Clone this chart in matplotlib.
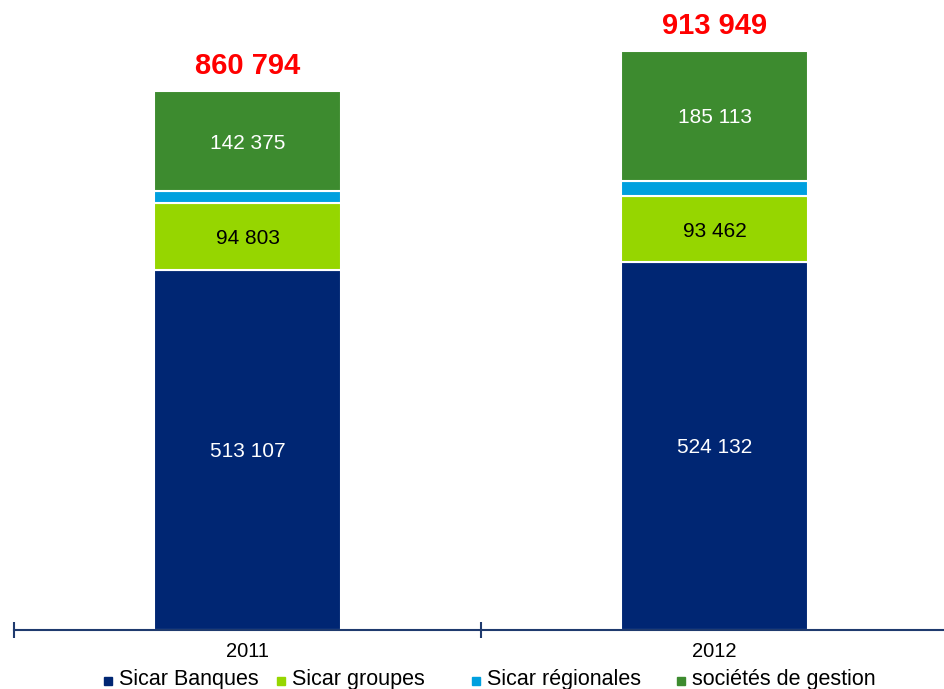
import matplotlib.pyplot as plt
from matplotlib.patches import Rectangle

plt.rcParams['font.family'] = ['Liberation Sans', 'DejaVu Sans']

# encours par catégorie d'investisseur
years = ["2011", "2012"]
series = ["Sicar Banques", "Sicar groupes", "Sicar régionales", "sociétés de gestion"]
banques = [513107, 524132]
groupes = [94803, 93462]
regionales = [16500, 22000]
societes = [142375, 185113]
totals = ["860 794", "913 949"]

colors = ["#002673", "#96D600", "#00A0DF", "#3D8B2F"]
text_colors = ["white", "black", None, "white"]
axis_color = "#1F3A6E"

W, H = 944, 689
fig = plt.figure(figsize=(W / 100, H / 100), dpi=100)
ax = fig.add_axes([14 / W, (H - 630) / H, 934 / W, 630 / H])

def fmt(v):
    return f"{v:,}".replace(",", " ")

x = list(range(len(years)))
bottom = [0, 0]
for vals, col, tcol in zip([banques, groupes, regionales, societes], colors, text_colors):
    ax.bar(x, vals, width=0.4, bottom=bottom, color=col, edgecolor="white", linewidth=1.5)
    if tcol is not None:
        for i, v in enumerate(vals):
            ax.text(x[i], bottom[i] + v / 2, fmt(v), ha="center", va="center_baseline",
                    fontsize=15, color=tcol)
    bottom = [b + v for b, v in zip(bottom, vals)]

for i, t in enumerate(totals):
    ax.text(x[i], bottom[i] + 40000, t, ha="center", va="center_baseline",
            fontsize=21, fontweight="bold", color="#FF0000")

ax.set_xlim(-0.5, 1.5)
ax.set_ylim(0, 897000)
for s in ["top", "right", "left"]:
    ax.spines[s].set_visible(False)
ax.spines["bottom"].set_color(axis_color)
ax.spines["bottom"].set_linewidth(1.5)
ax.set_yticks([])
ax.set_xticks([-0.5, 0.5, 1.5])
ax.set_xticklabels([])
ax.tick_params(axis="x", direction="inout", length=11, width=1.5, color=axis_color)
for i, y in enumerate(years):
    ax.text(x[i], -17000, y, ha="center", va="top", fontsize=14.5, color="black")

# legend drawn by hand
leg_x = [104, 277, 472, 677]
for lx, name, col in zip(leg_x, series, colors):
    fig.add_artist(Rectangle((lx / W, (H - 685) / H), 8 / W, 8 / H,
                             transform=fig.transFigure, color=col))
    fig.text((lx + 15) / W, (H - 679) / H, name, ha="left", va="center",
             fontsize=15.5, color="black")

fig.savefig("out.png", dpi=100)
